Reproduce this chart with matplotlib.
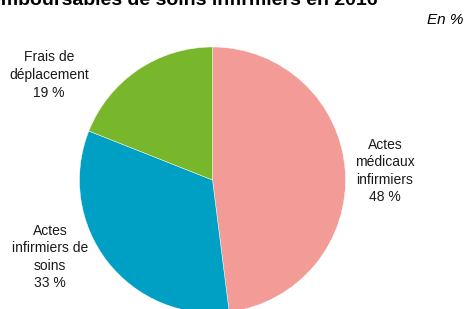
import matplotlib
matplotlib.use("Agg")
import matplotlib.pyplot as plt

plt.rcParams['font.family'] = ['Liberation Sans', 'DejaVu Sans']

categories = ["Actes\nmédicaux\ninfirmiers", "Actes\ninfirmiers de\nsoins", "Frais de\ndéplacement"]
values = [48, 33, 19]
colors = ["#F29B97", "#009FC4", "#78B72B"]
title = "Structure des dépenses remboursables de soins infirmiers en 2016"
unit = "En %"

W, H = 465, 309
fig = plt.figure(figsize=(W / 100, H / 100), dpi=100)
ax = fig.add_axes([0, 0, 1, 1])

cx, cy, r = 212.5, H - 180, 133
ax.pie(values, colors=colors, startangle=90, counterclock=False,
       center=(cx, cy), radius=r, frame=True,
       wedgeprops=dict(linewidth=0.3, edgecolor='white'))
ax.set_xlim(0, W)
ax.set_ylim(0, H)
ax.set_aspect('equal')
ax.axis('off')

label_pos = [(385, 171), (50, 257), (49, 75)]
for cat, v, (x, y) in zip(categories, values, label_pos):
    fig.text(x / W, 1 - y / H, f"{cat}\n{v} %", ha='center', va='center',
             fontsize=10, color='#1a1a1a', linespacing=1.32)

fig.text(378 / W, 1 - 5 / H, title, ha='right', va='baseline',
         fontsize=14, fontweight='bold', color='black')
fig.text(463 / W, 1 - 20 / H, unit, ha='right', va='center',
         fontsize=11, style='italic', color='black')

fig.savefig("out.png", dpi=100)
